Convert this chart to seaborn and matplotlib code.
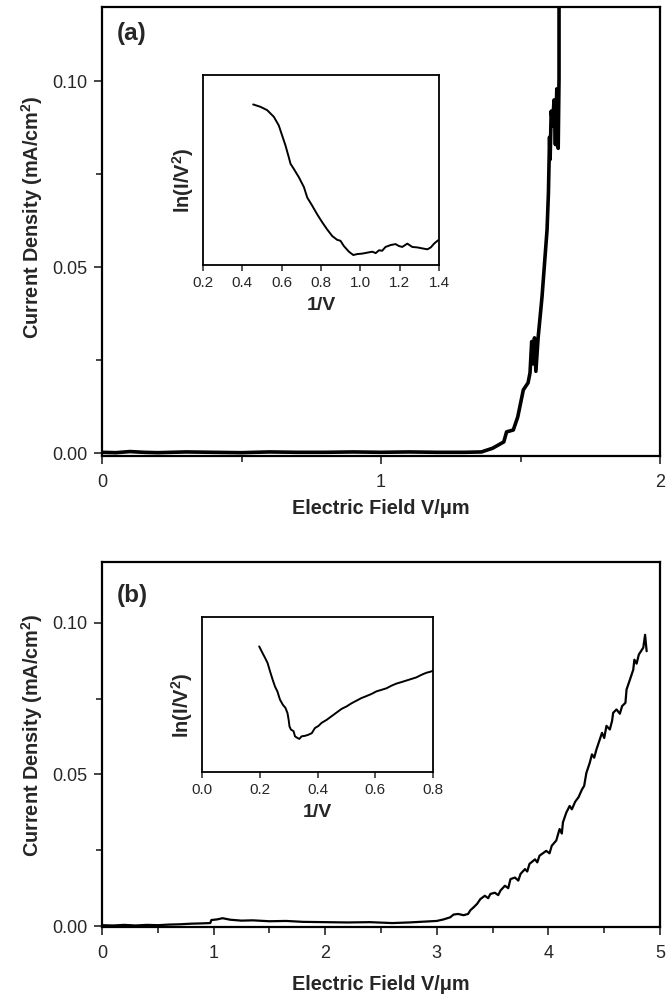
import numpy as np
import pandas as pd
import seaborn as sns
import matplotlib.pyplot as plt
from matplotlib.ticker import MultipleLocator

# Panel (a): current density vs field
a_field = [0.00, 0.05, 0.10, 0.15, 0.20, 0.30, 0.40, 0.50, 0.60, 0.70, 0.80, 0.90,
           1.00, 1.10, 1.20, 1.30, 1.36, 1.40, 1.44, 1.45, 1.474, 1.49, 1.51, 1.527,
           1.534, 1.540, 1.545, 1.550, 1.555, 1.563, 1.577, 1.595, 1.600, 1.604,
           1.606, 1.610, 1.615, 1.620, 1.625, 1.630, 1.635, 1.638, 1.638]
a_current = [0.0002, 0.0001, 0.0004, 0.0002, 0.0001, 0.0003, 0.0002, 0.0001, 0.0003,
             0.0002, 0.0002, 0.0003, 0.0002, 0.0003, 0.0002, 0.0002, 0.0003, 0.0013,
             0.0030, 0.0057, 0.0062, 0.0097, 0.0170, 0.0189, 0.0216, 0.0300, 0.0240,
             0.0310, 0.0220, 0.0310, 0.0420, 0.0600, 0.0700, 0.0850, 0.0790, 0.0920,
             0.0880, 0.0950, 0.0830, 0.0980, 0.0820, 0.1010, 0.1250]

# Inset (a): FN plot
ia_x = [0.455, 0.492, 0.526, 0.560, 0.585, 0.602, 0.619, 0.636, 0.645, 0.662, 0.687,
        0.713, 0.730, 0.755, 0.780, 0.806, 0.831, 0.857, 0.882, 0.899, 0.916, 0.942,
        0.964, 0.984, 1.010, 1.035, 1.061, 1.078, 1.095, 1.111, 1.128, 1.154, 1.179,
        1.196, 1.213, 1.239, 1.264, 1.290, 1.315, 1.341, 1.358, 1.375, 1.395]
ia_y = [-9.62, -9.67, -9.74, -9.88, -10.06, -10.27, -10.48, -10.73, -10.87, -10.98,
        -11.15, -11.36, -11.58, -11.75, -11.93, -12.10, -12.25, -12.39, -12.47, -12.49,
        -12.60, -12.72, -12.79, -12.77, -12.76, -12.74, -12.72, -12.75, -12.69, -12.70,
        -12.62, -12.58, -12.56, -12.60, -12.62, -12.55, -12.62, -12.63, -12.65, -12.67,
        -12.63, -12.55, -12.48]

# Panel (b): current density vs field
b_field = [0.00, 0.10, 0.20, 0.30, 0.40, 0.50, 0.60, 0.70, 0.80, 0.90, 0.97, 0.98,
           1.03, 1.08, 1.15, 1.25, 1.35, 1.50, 1.65, 1.80, 2.00, 2.20, 2.40, 2.60,
           2.75, 2.90, 3.00, 3.06, 3.12, 3.15, 3.19, 3.24, 3.28, 3.30, 3.33, 3.36,
           3.39, 3.43, 3.46, 3.48, 3.52, 3.55, 3.57, 3.61, 3.64, 3.66, 3.70, 3.73,
           3.75, 3.79, 3.81, 3.83, 3.88, 3.90, 3.92, 3.98, 4.01, 4.03, 4.07, 4.10,
           4.12, 4.13, 4.16, 4.19, 4.21, 4.24, 4.27, 4.30, 4.32, 4.34, 4.37, 4.39,
           4.41, 4.43, 4.45, 4.48, 4.50, 4.52, 4.55, 4.57, 4.58, 4.61, 4.64, 4.66,
           4.69, 4.70, 4.73, 4.76, 4.77, 4.79, 4.81, 4.85, 4.866, 4.88]
b_current = [0.0003, 0.0002, 0.0004, 0.0002, 0.0004, 0.0003, 0.0005, 0.0006, 0.0008,
             0.0009, 0.0010, 0.0020, 0.0022, 0.0026, 0.0021, 0.0018, 0.0019, 0.0016,
             0.0017, 0.0014, 0.0013, 0.0012, 0.0013, 0.0010, 0.0012, 0.0015, 0.0017,
             0.0022, 0.0029, 0.0038, 0.0040, 0.0036, 0.0040, 0.0052, 0.0062, 0.0073,
             0.0089, 0.0100, 0.0092, 0.0106, 0.0110, 0.0102, 0.0117, 0.0133, 0.0125,
             0.0155, 0.0160, 0.0150, 0.0172, 0.0188, 0.0180, 0.0205, 0.0220, 0.0210,
             0.0232, 0.0248, 0.0240, 0.0265, 0.0282, 0.0320, 0.0305, 0.0342, 0.0374,
             0.0396, 0.0385, 0.0410, 0.0425, 0.0450, 0.0462, 0.0505, 0.0538, 0.0566,
             0.0555, 0.0582, 0.0604, 0.0637, 0.0620, 0.0660, 0.0648, 0.0676, 0.0703,
             0.0714, 0.0700, 0.0725, 0.0736, 0.0780, 0.0812, 0.0845, 0.0878, 0.0865,
             0.0895, 0.0918, 0.0960, 0.0906]

# Inset (b): FN plot
ib_x = [0.198, 0.207, 0.219, 0.227, 0.236, 0.245, 0.253, 0.261, 0.270, 0.280, 0.289,
        0.296, 0.300, 0.303, 0.308, 0.317, 0.322, 0.330, 0.337, 0.345, 0.357, 0.368,
        0.380, 0.391, 0.403, 0.414, 0.432, 0.449, 0.466, 0.483, 0.501, 0.518, 0.535,
        0.552, 0.570, 0.587, 0.604, 0.622, 0.639, 0.656, 0.673, 0.691, 0.708, 0.725,
        0.742, 0.760, 0.777, 0.791, 0.800]
ib_y = [-9.57, -9.67, -9.80, -9.89, -10.06, -10.22, -10.35, -10.44, -10.60, -10.70,
        -10.76, -10.86, -10.99, -11.12, -11.18, -11.21, -11.31, -11.34, -11.36, -11.31,
        -11.30, -11.28, -11.25, -11.15, -11.11, -11.05, -10.99, -10.92, -10.85, -10.78,
        -10.73, -10.67, -10.62, -10.57, -10.53, -10.49, -10.44, -10.41, -10.38, -10.33,
        -10.29, -10.26, -10.23, -10.20, -10.17, -10.12, -10.08, -10.06, -10.04]

sns.set_style("ticks")
plt.rcParams['font.family'] = ['Liberation Sans', 'DejaVu Sans']
plt.rcParams['mathtext.fontset'] = 'custom'
plt.rcParams['mathtext.rm'] = 'Liberation Sans'
plt.rcParams['mathtext.bf'] = 'Liberation Sans:bold'

fig = plt.figure(figsize=(6.72, 9.97), dpi=100)
ax_a = fig.add_axes([0.1518, 0.5426, 0.8304, 0.4503])
ax_b = fig.add_axes([0.1518, 0.0702, 0.8304, 0.3661])
in_a = fig.add_axes([0.3021, 0.7342, 0.3512, 0.1906])
in_b = fig.add_axes([0.3006, 0.2257, 0.3438, 0.1555])


def style_main(ax, ylab_y, xpad):
    for s in ax.spines.values():
        s.set_linewidth(1.6)
        s.set_color('black')
    ax.tick_params(which='major', length=6, width=1.2, labelsize=13)
    ax.tick_params(which='minor', length=4, width=1.2)
    ax.tick_params(axis='x', which='major', pad=7)
    ax.tick_params(axis='y', which='major', pad=4.5)
    ax.set_ylabel('Current Density (mA/cm$^{\\mathbf{2}}$)', fontsize=14.3,
                  fontweight='bold')
    ax.set_xlabel('Electric Field V/\u03bcm', fontsize=14.3, fontweight='bold',
                  labelpad=xpad)
    ax.yaxis.set_label_coords(-0.103, ylab_y)
    ax.yaxis.set_major_locator(MultipleLocator(0.05))
    ax.yaxis.set_minor_locator(MultipleLocator(0.025))
    ax.yaxis.set_major_formatter(plt.FormatStrFormatter('%.2f'))


def style_inset(ax, ylab_y):
    for s in ax.spines.values():
        s.set_linewidth(1.3)
        s.set_color('black')
    ax.tick_params(axis='x', length=4, width=1.1, labelsize=11, pad=4)
    ax.set_yticks([])
    ax.set_xlabel('1/V', fontsize=14, fontweight='bold', labelpad=5)
    ax.set_ylabel('ln(I/V$^{\\mathbf{2}}$)', fontsize=14.5, fontweight='bold')
    ax.yaxis.set_label_coords(-0.030, ylab_y)
    ax.xaxis.set_major_formatter(plt.FormatStrFormatter('%.1f'))


# panel (a)
sns.lineplot(x=a_field, y=a_current, ax=ax_a, color='black', linewidth=2.6,
             sort=False, estimator=None)
ax_a.set_xlim(0, 2)
ax_a.set_ylim(-0.0008, 0.12)
ax_a.xaxis.set_major_locator(MultipleLocator(1))
ax_a.xaxis.set_minor_locator(MultipleLocator(0.5))
style_main(ax_a, 0.533, 6)
ax_a.text(0.027, 0.942, '(a)', transform=ax_a.transAxes, fontsize=17.5,
          fontweight='bold', va='center', ha='left')

sns.lineplot(x=ia_x, y=ia_y, ax=in_a, color='black', linewidth=1.4,
             sort=False, estimator=None)
in_a.set_xlim(0.2, 1.4)
in_a.set_ylim(-13.0, -9.0)
in_a.xaxis.set_major_locator(MultipleLocator(0.2))
style_inset(in_a, 0.447)

# panel (b)
sns.lineplot(x=b_field, y=b_current, ax=ax_b, color='black', linewidth=1.6,
             sort=False, estimator=None)
ax_b.set_xlim(0, 5)
ax_b.set_ylim(-0.0003, 0.12)
ax_b.xaxis.set_major_locator(MultipleLocator(1))
ax_b.xaxis.set_minor_locator(MultipleLocator(0.5))
style_main(ax_b, 0.527, 9.5)
ax_b.text(0.027, 0.907, '(b)', transform=ax_b.transAxes, fontsize=17.5,
          fontweight='bold', va='center', ha='left')

sns.lineplot(x=ib_x, y=ib_y, ax=in_b, color='black', linewidth=1.4,
             sort=False, estimator=None)
in_b.set_xlim(0.0, 0.8)
in_b.set_ylim(-12.0, -9.0)
in_b.xaxis.set_major_locator(MultipleLocator(0.2))
style_inset(in_b, 0.43)

fig.savefig('out.png', dpi=100)
